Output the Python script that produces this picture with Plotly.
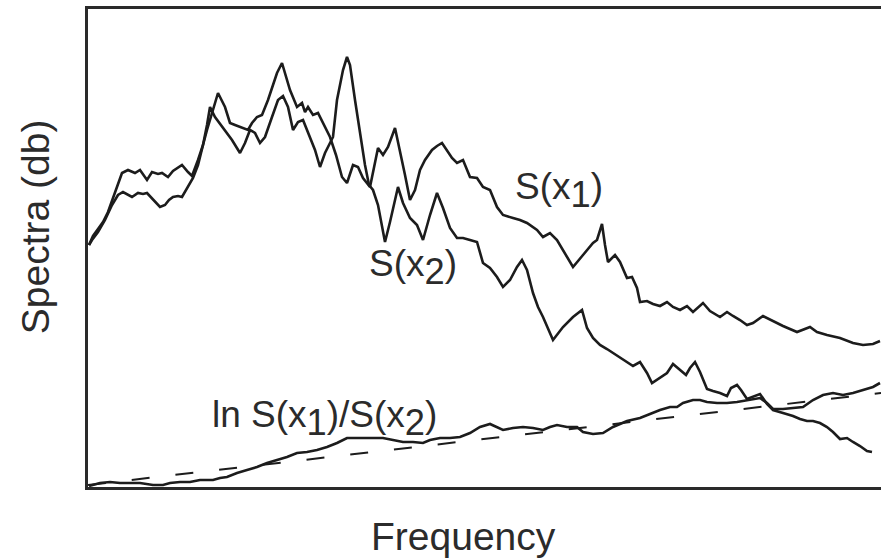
import plotly.graph_objects as go

# Frequency (arbitrary units) and spectral level (arbitrary dB units)
s1_freq = [1, 5, 10, 15, 20, 25, 30, 34, 40, 47, 52, 59, 64, 70, 74, 80, 85, 90, 94, 100,
           104, 110, 115, 119, 124, 130, 137, 142, 147, 154, 160, 164, 169, 174, 180, 189, 194,
           202, 209, 214, 217, 220, 225, 230, 235, 242, 248, 254, 259, 265, 270, 275, 282, 288,
           290, 295, 300, 307, 312, 317, 322, 327, 332, 337, 344, 349, 354, 359, 364, 369, 375,
           382, 389, 395, 402, 409, 415, 425, 432, 439, 449, 455, 462, 469, 477, 485, 495, 505,
           509, 514, 517, 520, 527, 532, 539, 544, 549, 552, 559, 565, 572, 579, 585, 592, 599,
           605, 615, 622, 632, 639, 645, 652, 659, 665, 675, 685, 695, 709, 722, 729, 739, 752,
           765, 775, 785, 792]
s1_level = [242, 251, 258, 265, 275, 289, 304, 314, 317, 314, 317, 307, 315, 313, 314, 310, 316,
            319, 322, 315, 311, 327, 342, 357, 374, 394, 380, 364, 362, 359, 357, 364, 370, 372,
            387, 414, 424, 397, 380, 384, 375, 380, 372, 374, 364, 350, 332, 310, 304, 322, 320,
            309, 300, 327, 339, 332, 340, 359, 337, 312, 287, 297, 317, 327, 337, 341, 344, 337,
            329, 324, 327, 310, 309, 300, 297, 280, 272, 269, 267, 264, 257, 250, 254, 247, 234,
            220, 232, 244, 247, 263, 242, 225, 232, 225, 209, 210, 199, 185, 186, 183, 181, 185,
            180, 177, 181, 175, 184, 176, 170, 175, 171, 167, 162, 164, 171, 166, 161, 155, 160,
            155, 152, 149, 144, 142, 143, 146]

s2_freq = [1, 4, 10, 17, 24, 30, 35, 40, 44, 50, 55, 59, 64, 68, 72, 77, 81, 85, 90, 94, 100,
           105, 110, 115, 119, 122, 127, 137, 144, 152, 157, 162, 167, 172, 177, 184, 190, 195,
           200, 205, 210, 215, 222, 227, 232, 237, 242, 245, 249, 255, 259, 262, 267, 272, 277,
           281, 285, 290, 297, 302, 310, 315, 322, 329, 335, 342, 349, 355, 362, 369, 375, 382,
           389, 395, 402, 409, 415, 422, 429, 434, 439, 445, 450, 455, 462, 465, 475, 485, 494,
           499, 505, 512, 519, 525, 532, 539, 545, 552, 559, 564, 572, 579, 585, 592, 598, 602,
           607, 612, 619, 625, 632, 639, 643, 649, 653, 659, 665, 672, 679, 685, 695, 705, 712,
           719, 725, 732, 739, 745, 752, 759, 765, 772, 779, 784]
s2_level = [242, 247, 255, 267, 282, 292, 295, 292, 290, 294, 293, 294, 289, 284, 280, 282, 287,
            290, 291, 290, 300, 309, 322, 342, 362, 380, 370, 357, 347, 334, 344, 357, 354, 344,
            350, 370, 387, 391, 380, 357, 365, 367, 350, 337, 320, 334, 344, 350, 387, 417, 430,
            422, 387, 352, 322, 302, 297, 282, 245, 265, 300, 284, 269, 262, 247, 272, 294, 279,
            259, 249, 249, 247, 245, 224, 219, 210, 200, 207, 220, 227, 217, 194, 180, 170, 154,
            147, 160, 170, 177, 159, 149, 142, 138, 134, 129, 125, 121, 125, 114, 104, 109, 114,
            123, 117, 112, 119, 125, 115, 98, 96, 94, 91, 99, 102, 97, 88, 90, 93, 83, 77, 74,
            71, 68, 66, 66, 64, 60, 55, 48, 49, 45, 41, 36, 35]

ratio_freq = [1, 7, 12, 22, 32, 42, 52, 65, 75, 82, 92, 102, 112, 125, 132, 139, 149, 159, 169,
              179, 189, 199, 209, 219, 229, 239, 249, 259, 269, 282, 295, 305, 315, 325, 335, 342,
              352, 362, 372, 382, 392, 402, 409, 415, 425, 435, 445, 455, 462, 469, 479, 489, 495,
              505, 515, 525, 539, 552, 562, 572, 582, 589, 595, 605, 612, 619, 629, 639, 649, 659,
              672, 679, 685, 695, 705, 715, 725, 735, 745, 755, 765, 775, 785, 792]
ratio_level = [1, 3, 4, 5, 4, 4, 4, 2, 2, 4, 5, 5, 7, 7, 9, 10, 14, 17, 20, 24, 27, 30, 34, 35,
               37, 40, 44, 49, 49, 49, 49, 47, 45, 45, 44, 47, 49, 49, 50, 54, 60, 63, 60, 57, 59,
               60, 59, 57, 60, 62, 60, 60, 55, 53, 54, 60, 66, 69, 73, 77, 80, 80, 84, 87, 87, 85,
               84, 84, 85, 87, 89, 84, 78, 78, 79, 80, 87, 92, 94, 92, 94, 97, 100, 104]

trend_freq = [0, 793]
trend_level = [2, 94]

LINE = "#1c1c1c"
TEXT = "#2b2b2b"
FONT = "Liberation Sans, Arial, sans-serif"

fig = go.Figure()
for fx, fy in [(s1_freq, s1_level), (s2_freq, s2_level), (ratio_freq, ratio_level)]:
    fig.add_trace(go.Scatter(x=fx, y=fy, mode="lines",
                             line=dict(color=LINE, width=2.6), showlegend=False,
                             hoverinfo="skip"))
fig.add_trace(go.Scatter(x=trend_freq, y=trend_level, mode="lines",
                         line=dict(color=LINE, width=2, dash="18px,26px"),
                         showlegend=False, hoverinfo="skip"))

sub = lambda d: "<sub><span style='font-size:140%'>" + d + "</span></sub>"

annots = [
    dict(x=425, y=297, text="S(x" + sub("1") + ")", xanchor="left", yanchor="middle",
         xref="x", yref="y", font=dict(size=37)),
    dict(x=279, y=220, text="S(x" + sub("2") + ")", xanchor="left", yanchor="middle",
         xref="x", yref="y", font=dict(size=37)),
    dict(x=122, y=69, text="ln S(x" + sub("1") + ")/S(x" + sub("2") + ")",
         xanchor="left", yanchor="middle", xref="x", yref="y", font=dict(size=37)),
    dict(x=-0.066, y=0.545, text="Spectra (db)", textangle=-90, xref="paper", yref="paper",
         xanchor="center", yanchor="middle", font=dict(size=39)),
    dict(x=0.474, y=-0.103, text="Frequency", xref="paper", yref="paper",
         xanchor="center", yanchor="middle", font=dict(size=39)),
]
for a in annots:
    a["showarrow"] = False
    a["font"]["family"] = FONT
    a["font"]["color"] = TEXT
    fig.add_annotation(**a)

fig.update_layout(
    width=881, height=559,
    margin=dict(l=88, r=0, t=9, b=72),
    paper_bgcolor="white", plot_bgcolor="white",
    xaxis=dict(range=[0, 793], showgrid=False, zeroline=False, showticklabels=False,
               ticks="", showline=True, mirror=True, linecolor="#2a2a2a", linewidth=3),
    yaxis=dict(range=[0, 478], showgrid=False, zeroline=False, showticklabels=False,
               ticks="", showline=True, linecolor="#2a2a2a", linewidth=3),
)

fig.write_html("out.html", config={"displayModeBar": False})
